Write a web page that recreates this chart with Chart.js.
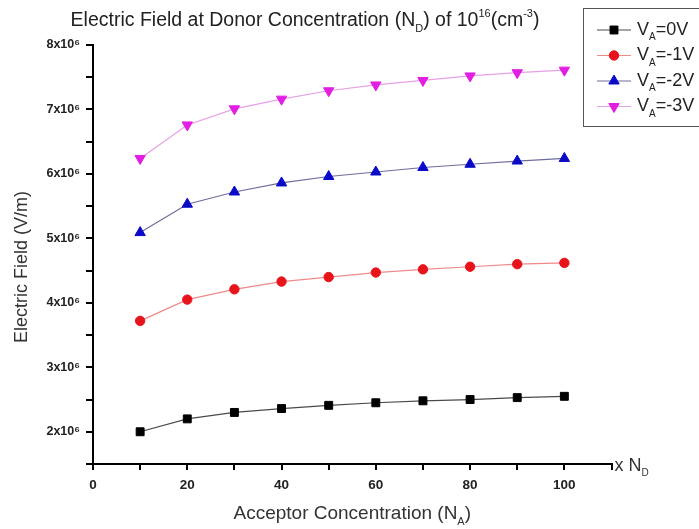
<!DOCTYPE html>
<html><head><meta charset="utf-8">
<script src="https://cdn.jsdelivr.net/npm/chart.js@4.4.0/dist/chart.umd.min.js"></script>
<style>html,body{margin:0;padding:0;background:#fff}</style>
</head><body>
<canvas id="c" width="699" height="529"></canvas>
<script>
// ---- data ----
const acceptorConc = [10, 20, 30, 40, 50, 60, 70, 80, 90, 100];
const field0V  = [2.00e6, 2.20e6, 2.30e6, 2.36e6, 2.41e6, 2.45e6, 2.48e6, 2.50e6, 2.53e6, 2.55e6];
const field1V  = [3.72e6, 4.05e6, 4.21e6, 4.33e6, 4.40e6, 4.47e6, 4.52e6, 4.56e6, 4.60e6, 4.62e6];
const field2V  = [5.09e6, 5.53e6, 5.72e6, 5.86e6, 5.96e6, 6.03e6, 6.10e6, 6.15e6, 6.20e6, 6.24e6];
const field3V  = [6.24e6, 6.76e6, 7.01e6, 7.16e6, 7.29e6, 7.38e6, 7.45e6, 7.52e6, 7.57e6, 7.61e6];
const seriesLabels = ['V_{A}=0V', 'V_{A}=-1V', 'V_{A}=-2V', 'V_{A}=-3V'];
const xTickLabels = {0: '0', 20: '20', 40: '40', 60: '60', 80: '80', 100: '100'};
const yTickLabels = {2: '2x10⁶', 3: '3x10⁶', 4: '4x10⁶', 5: '5x10⁶', 6: '6x10⁶', 7: '7x10⁶', 8: '8x10⁶'};
const chartTitle = 'Electric Field at Donor Concentration (N_{D}) of 10^{16}(cm^{-3})';
const xTitle = 'Acceptor Concentration (N_{A})';
const yTitle = 'Electric Field (V/m)';
const xUnit = 'x N_{D}';

// ---- rich text helpers ----
function parseRich(s) {
  const out = []; let i = 0, buf = '';
  while (i < s.length) {
    if ((s[i] === '_' || s[i] === '^') && s[i+1] === '{') {
      if (buf) { out.push({t: buf, k: 'n'}); buf = ''; }
      const end = s.indexOf('}', i);
      out.push({t: s.slice(i+2, end), k: s[i] === '_' ? 'sub' : 'sup'});
      i = end + 1;
    } else { buf += s[i]; i++; }
  }
  if (buf) out.push({t: buf, k: 'n'});
  return out;
}
const FAM = '"Liberation Sans", Arial, sans-serif';
function richWidth(ctx, segs, size) {
  let w = 0;
  for (const s of segs) {
    ctx.font = (s.k === 'n' ? size : Math.round(size * 0.58)) + 'px ' + FAM;
    w += ctx.measureText(s.t).width;
  }
  return w;
}
function drawRich(ctx, segs, x, y, size, color) {
  ctx.save();
  ctx.fillStyle = color; ctx.textBaseline = 'middle'; ctx.textAlign = 'left';
  let cx = x;
  for (const s of segs) {
    let dy = 0, sz = size;
    if (s.k !== 'n') { sz = Math.round(size * 0.58); dy = s.k === 'sub' ? size * 0.42 : -size * 0.38; }
    ctx.font = sz + 'px ' + FAM;
    ctx.fillText(s.t, cx, y + dy);
    cx += ctx.measureText(s.t).width;
  }
  ctx.restore();
  return cx - x;
}

const annotPlugin = {
  id: 'annot',
  afterDraw(chart) {
    const ctx = chart.ctx;
    const ca = chart.chartArea;
    // title
    const tSegs = parseRich(chartTitle);
    const tw = richWidth(ctx, tSegs, 19.5);
    drawRich(ctx, tSegs, 305 - tw / 2, 21, 19.5, '#222');
    // x title
    const xs = parseRich(xTitle);
    const xw = richWidth(ctx, xs, 19);
    drawRich(ctx, xs, (ca.left + ca.right) / 2 - xw / 2, 514, 19, '#333');
    // x unit
    drawRich(ctx, parseRich(xUnit), ca.right + 3, ca.bottom + 2, 18, '#333');
    // y title
    ctx.save();
    ctx.translate(22, 267);
    ctx.rotate(-Math.PI / 2);
    ctx.font = '18px ' + FAM; ctx.fillStyle = '#333';
    ctx.textAlign = 'center'; ctx.textBaseline = 'middle';
    ctx.fillText(yTitle, 0, 0);
    ctx.restore();
    // legend
    const lx = 583, ly = 8, lh = 118;
    ctx.save();
    ctx.strokeStyle = '#555'; ctx.lineWidth = 1;
    ctx.strokeRect(lx + 0.5, ly + 0.5, 140, lh);
    chart.data.datasets.forEach((ds, i) => {
      const y = 30 + i * 25.5;
      ctx.strokeStyle = ds.borderColor; ctx.lineWidth = 1;
      ctx.beginPath(); ctx.moveTo(597, y); ctx.lineTo(631, y); ctx.stroke();
      ctx.fillStyle = ds.pointBackgroundColor; ctx.strokeStyle = ds.pointBorderColor;
      Chart.helpers.drawPoint(ctx, {pointStyle: ds.pointStyle, radius: ds.pointRadius, rotation: ds.pointRotation || 0, borderWidth: 1}, 614, y);
      drawRich(ctx, parseRich(seriesLabels[i]), 637, y, 18, '#222');
    });
    ctx.restore();
  }
};

function mk(label, data, line, mark, style, r, rot) {
  return {
    label, data: acceptorConc.map((x, i) => ({x, y: data[i]})),
    borderColor: line, borderWidth: 1.2, backgroundColor: mark,
    pointBackgroundColor: mark, pointBorderColor: mark, pointBorderWidth: 1,
    pointStyle: style, pointRadius: r, pointRotation: rot || 0, tension: 0
  };
}

new Chart(document.getElementById('c'), {
  type: 'line',
  data: {
    datasets: [
      mk(seriesLabels[0], field0V, '#4a4a4a', '#000000', 'rect', 5.6),
      mk(seriesLabels[1], field1V, '#ef8a8a', '#e8141c', 'circle', 4.7),
      mk(seriesLabels[2], field2V, '#6d6d9c', '#0a0ac8', 'triangle', 6),
      mk(seriesLabels[3], field3V, '#e6a0e6', '#e21ee2', 'triangle', 6, 180)
    ]
  },
  options: {
    responsive: false, animation: false,
    layout: {padding: {top: 45, right: 87.5, left: 0, bottom: 0}},
    plugins: {legend: {display: false}, tooltip: {enabled: false}, title: {display: false}},
    scales: {
      x: {
        type: 'linear', min: 0, max: 110,
        afterFit(s) { s.height = 65; },
        border: {display: true, color: '#000', width: 2},
        grid: {drawOnChartArea: false, drawTicks: true, tickLength: 6, color: '#000', lineWidth: 2},
        ticks: {stepSize: 10, autoSkip: false, maxRotation: 0, padding: 7, color: '#222',
          font: {family: FAM, size: 13.5, weight: 'bold'},
          callback: v => (xTickLabels[v] !== undefined ? xTickLabels[v] : '')}
      },
      y: {
        type: 'linear', min: 1.5e6, max: 8e6,
        afterFit(s) { s.width = 93; },
        border: {display: true, color: '#000', width: 2},
        grid: {drawOnChartArea: false, drawTicks: true, tickLength: 7, color: '#000', lineWidth: 2},
        ticks: {stepSize: 0.5e6, autoSkip: false, padding: 6, color: '#222',
          font: {family: FAM, size: 12.5, weight: 'bold'},
          callback: v => { const k = v / 1e6; return Number.isInteger(k) && yTickLabels[k] ? yTickLabels[k] : ''; }}
      }
    }
  },
  plugins: [annotPlugin]
});
</script>
</body></html>
